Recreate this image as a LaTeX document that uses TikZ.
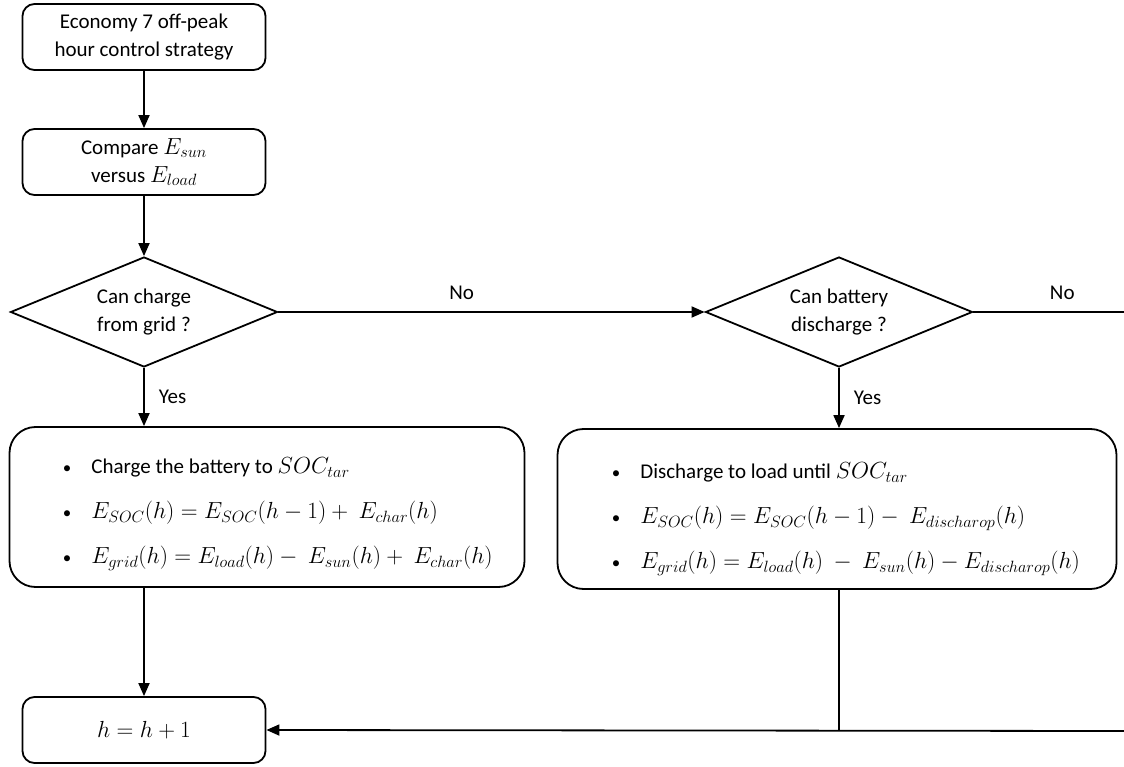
\RequirePackage{fix-cm}
\documentclass[tikz,border=0pt]{standalone}
\usepackage{fontspec}
\setmainfont{Carlito}
\usetikzlibrary{shapes.geometric,arrows.meta}
% formulas are set a little larger than the surrounding text
\newcommand{\mth}[1]{{\fontsize{23.3}{28}\selectfont$#1$}}
\newcommand{\dotmark}{{\fontsize{17}{17}\selectfont\textbullet}}
\begin{document}
\begin{tikzpicture}[x=1pt,y=-1pt,
  font=\fontsize{21}{28}\selectfont,
  line width=1.8pt,
  flow/.style={-{Triangle[length=13pt,width=11pt]}},
  smallbox/.style={draw, rounded corners=12pt, minimum width=243pt, minimum height=66pt, align=center, inner sep=0pt},
  bigbox/.style={draw, rounded corners=26pt, inner sep=0pt},
  decision/.style={draw, diamond, minimum width=267pt, minimum height=110pt, inner sep=0pt, align=center, aspect=2.4},
  bullets/.style={anchor=west, inner sep=0pt},
  lbl/.style={inner sep=0pt}
]
\useasboundingbox (0,0) rectangle (1124,767);

% process boxes and decisions
\node[smallbox] (start) at (144,37) {Economy 7 off-peak\\hour control strategy};
\node[smallbox] (cmp) at (144,162) {Compare \mth{E_{sun}}\\versus \mth{E_{load}}};
\node[decision] (d1) at (144,312) {Can charge\\from grid ?};
\node[decision] (d2) at (839,312) {Can battery\\discharge ?};
\node[bigbox, minimum width=515pt, minimum height=160pt] (chg) at (267,507) {};
\node[bigbox, minimum width=559pt, minimum height=160pt] (dis) at (837,509) {};
\node[smallbox] (inc) at (144,730) {\mth{h = h + 1}};

% bullet lists inside the two action boxes
\node[bullets] (chgtxt) at (62,513) {%
  \begin{tabular}{@{}c@{\hspace{20pt}}l@{}}
  \dotmark & Charge the battery to \mth{SOC_{tar}}\\[17pt]
  \dotmark & \mth{E_{SOC}(h) = E_{SOC}(h-1) +\ E_{char}(h)}\\[17pt]
  \dotmark & \mth{E_{grid}(h) = E_{load}(h) -\ E_{sun}(h) +\ E_{char}(h)}
  \end{tabular}};
\node[bullets] (distxt) at (611,518) {%
  \begin{tabular}{@{}c@{\hspace{20pt}}l@{}}
  \dotmark & Discharge to load until \mth{SOC_{tar}}\\[17pt]
  \dotmark & \mth{E_{SOC}(h) = E_{SOC}(h-1) -\ E_{discharop}(h)}\\[17pt]
  \dotmark & \mth{E_{grid}(h) = E_{load}(h)\ -\ E_{sun}(h) - E_{discharop}(h)}
  \end{tabular}};

% free ends at the right margin
\coordinate (noend) at (1124,312);
\coordinate (back) at (1124,731);

% connectors
\draw[flow] (start) -- (cmp);
\draw[flow] (cmp) -- (d1);
\draw[flow] (d1.east) -- node[lbl, pos=0.43, above=11pt] {No} (d2.west);
\draw (d2.east) -- node[lbl, pos=0.59, above=11pt] {No} (noend);
\draw[flow] (d1.south) -- node[lbl, right=14pt] {Yes} (d1.south |- chg.north);
\draw[flow] (d2.south) -- node[lbl, right=14pt] {Yes} (d2.south |- dis.north);
\draw[flow] (d1.south |- chg.south) -- (inc.north);
\draw (d2.south |- dis.south) -- (d2.south |- back);
\draw[flow] (back) -- (inc.east);
\end{tikzpicture}
\end{document}
